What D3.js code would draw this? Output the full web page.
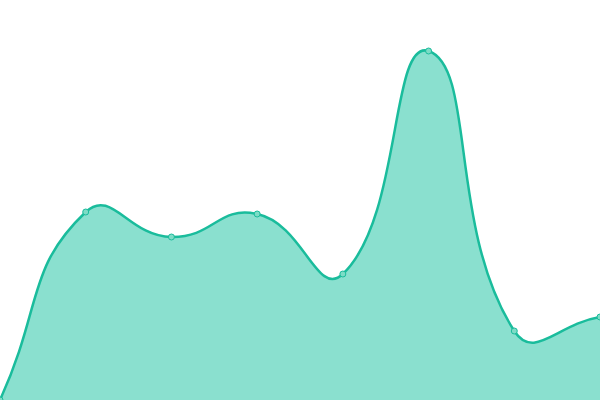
<!DOCTYPE html>
<html><head><meta charset="utf-8">
<script src="https://cdn.jsdelivr.net/npm/d3@7"></script>
<style>html,body{margin:0;padding:0;background:#fff;}svg{display:block;}</style>
</head><body>
<svg id="chart" width="600" height="400"></svg>
<script>
const categories = ["A","B","C","D","E","F","G","H"];
const values = [0, 188, 163, 186, 126, 349, 69, 83];

const W = 600, H = 400;
const svg = d3.select("#chart");
const x = d3.scalePoint().domain(categories).range([0, W]);
const y = d3.scaleLinear().domain([0, 400]).range([H, 0]);
const data = categories.map((c, i) => ({c, v: values[i]}));
const pts = data.map(d => [x(d.c), y(d.v)]);

// distance-weighted bezier smoothing (smoothness 0.5)
function smoothPath(p, t, close) {
  const n = p.length;
  const cps = p.map((cur, i) => {
    const prev = p[Math.max(0, i - 1)], next = p[Math.min(n - 1, i + 1)];
    const d01 = Math.hypot(cur[0] - prev[0], cur[1] - prev[1]);
    const d12 = Math.hypot(next[0] - cur[0], next[1] - cur[1]);
    const s = d01 + d12;
    const s01 = s ? d01 / s : 0, s12 = s ? d12 / s : 0;
    const fa = t * s01, fb = t * s12;
    const vx = next[0] - prev[0], vy = next[1] - prev[1];
    return {
      inn: [cur[0] - fa * vx, cur[1] - fa * vy],
      out: [cur[0] + fb * vx, cur[1] + fb * vy]
    };
  });
  const path = d3.path();
  path.moveTo(p[0][0], p[0][1]);
  for (let i = 1; i < n; i++) {
    const a = cps[i - 1].out, b = cps[i].inn;
    path.bezierCurveTo(a[0], a[1], b[0], b[1], p[i][0], p[i][1]);
  }
  if (close) {
    path.lineTo(p[n - 1][0], y(0));
    path.lineTo(p[0][0], y(0));
    path.closePath();
  }
  return path.toString();
}

svg.append("path").attr("d", smoothPath(pts, 0.5, true)).attr("fill", "#8ae0cf");
svg.append("path").attr("d", smoothPath(pts, 0.5, false)).attr("fill", "none").attr("stroke", "#1abc9c").attr("stroke-width", 2.5);
svg.selectAll("circle").data(data).join("circle")
  .attr("cx", d => x(d.c)).attr("cy", d => y(d.v)).attr("r", 3)
  .attr("fill", "#7ddcc6").attr("stroke", "#1abc9c").attr("stroke-width", 1);
</script>
</body></html>
